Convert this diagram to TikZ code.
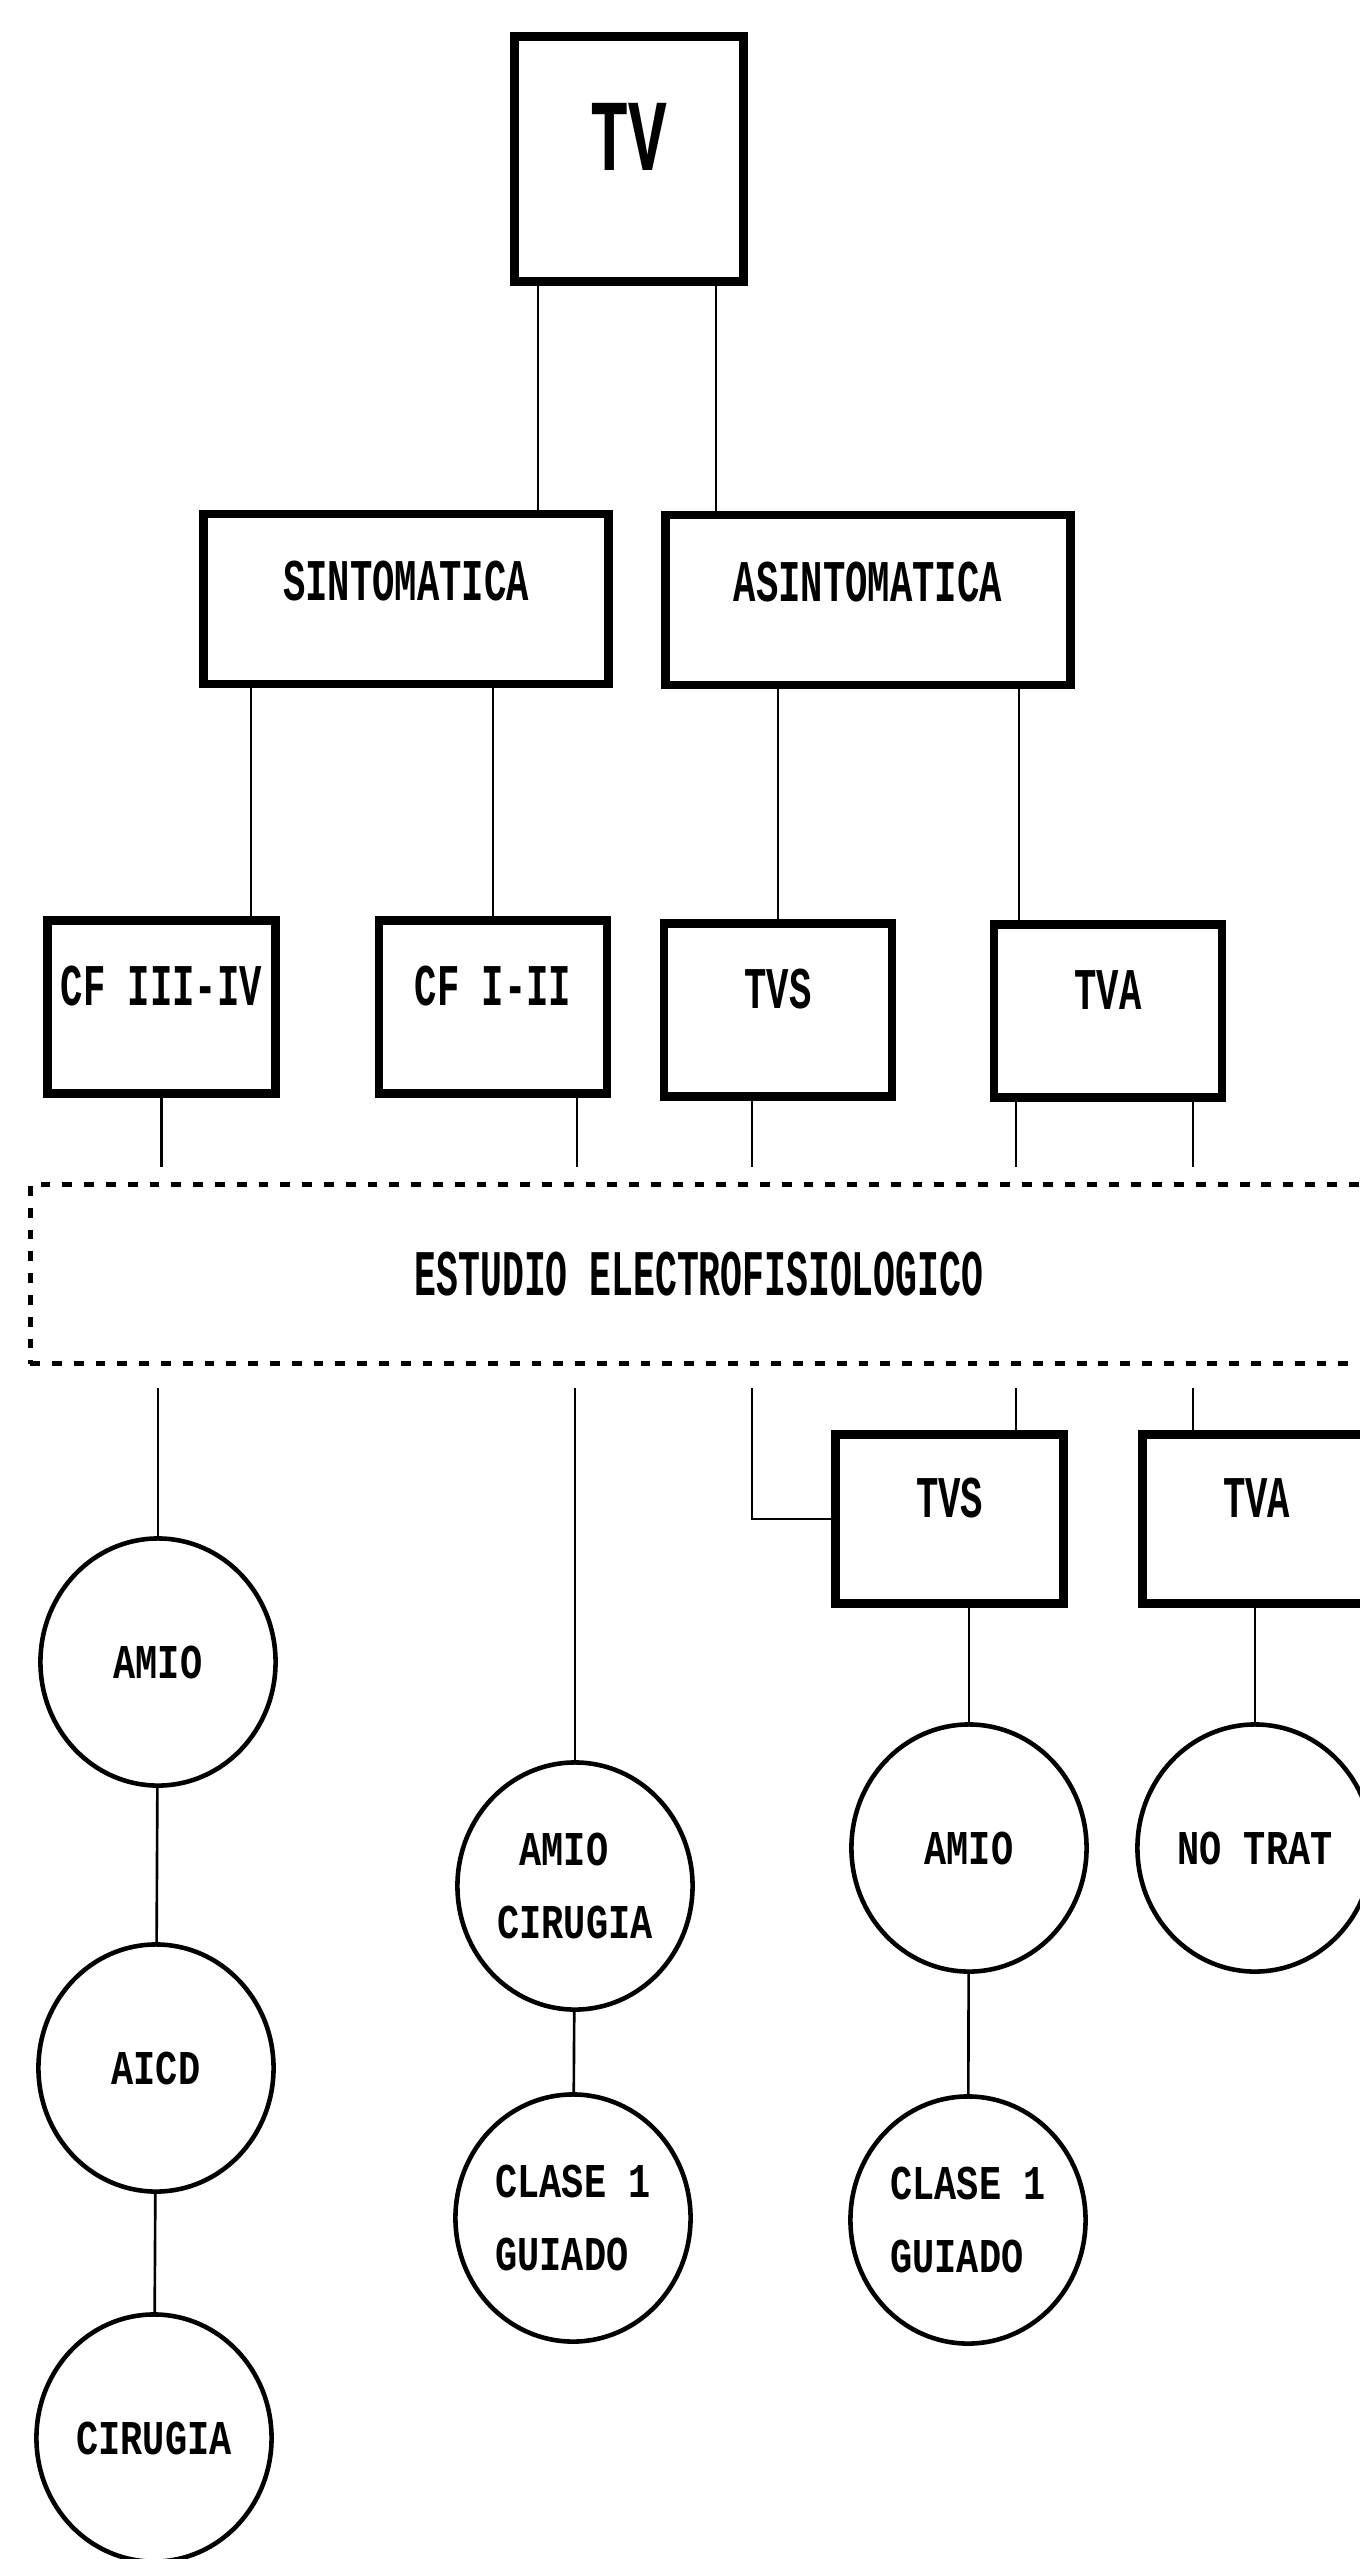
\documentclass[tikz,border=0pt]{standalone}
\usepackage{fontspec}
\usepackage{tikz}
\usetikzlibrary{shapes.geometric,calc}
\newfontfamily\boxfont[FakeStretch=0.63]{Liberation Mono}
\newfontfamily\circfont[FakeStretch=0.76]{Liberation Mono}
\newfontfamily\studyfont[FakeStretch=0.56]{Liberation Mono}
\tikzset{
  catbox/.style={
    rectangle, draw=black, line width=2.4pt,
    minimum width=2.28cm, minimum height=1.73cm,
    font=\boxfont\bfseries\fontsize{16.8}{18}\selectfont,
    text height=0.39cm, text depth=0.42cm,
    inner sep=0pt
  },
  groupbox/.style={catbox, minimum width=4.05cm, minimum height=1.70cm,
    text depth=0.36cm},
  tvbox/.style={catbox, minimum width=2.29cm, minimum height=2.45cm,
    font=\boxfont\bfseries\fontsize{29}{31}\selectfont,
    text height=0.67cm, text depth=0.44cm},
  studybox/.style={rectangle, draw=black, line width=1.4pt,
    dash pattern=on 2.8pt off 3.4pt,
    minimum width=13.37cm, minimum height=1.79cm,
    font=\studyfont\bfseries\fontsize{18.5}{20}\selectfont, inner sep=0pt},
  treatnode/.style={
    ellipse, draw=black, line width=1.3pt,
    minimum width=2.35cm, minimum height=2.47cm, inner sep=0pt,
    font=\circfont\bfseries\fontsize{13.8}{21}\selectfont, align=left
  },
  link/.style={line width=0.75pt},
}
\begin{document}
\begin{tikzpicture}[x=0.01cm, y=-0.01cm]
  \useasboundingbox (0,0) rectangle (1360,2559);
  \clip (0,0) rectangle (1360,2559);

  % Top and first split
  \node[tvbox] (tv) at (629,159) {TV};
  \node[groupbox] (sint) at (406,599) {SINTOMATICA};
  \node[groupbox] (asint) at (868,600) {ASINTOMATICA};
  \draw[link] ([xshift=-0.91cm]tv.south) -- ([xshift=-0.91cm]tv.south |- sint.north);
  \draw[link] ([xshift=0.87cm]tv.south) -- ([xshift=0.87cm]tv.south |- asint.north);

  % Second level
  \node[catbox] (cf34) at (161.5,1007) {CF III-IV};
  \node[catbox] (cf12) at (493,1007) {CF I-II};
  \node[catbox] (tvs) at (778,1010) {TVS};
  \node[catbox] (tva) at (1108,1011) {TVA};
  \draw[link] ([xshift=0.895cm]cf34.north |- sint.south) -- ([xshift=0.895cm]cf34.north);
  \draw[link] (sint.south -| cf12.north) -- (cf12.north);
  \draw[link] (asint.south -| tvs.north) -- (tvs.north);
  \draw[link] ([xshift=-0.89cm]tva.north |- asint.south) -- ([xshift=-0.89cm]tva.north);

  % Study
  \node[studybox] (study) at (699,1274) {ESTUDIO ELECTROFISIOLOGICO};
  \draw[link, shorten >=0.15cm] (cf34.south) -- (cf34.south |- study.north);
  \draw[link, shorten >=0.15cm] ([xshift=0.84cm]cf12.south) -- ([xshift=0.84cm]cf12.south |- study.north);
  \draw[link, shorten >=0.15cm] ([xshift=-0.26cm]tvs.south) -- ([xshift=-0.26cm]tvs.south |- study.north);
  \draw[link, shorten >=0.15cm] ([xshift=-0.92cm]tva.south) -- ([xshift=-0.92cm]tva.south |- study.north);
  \draw[link, shorten >=0.15cm] ([xshift=0.85cm]tva.south) -- ([xshift=0.85cm]tva.south |- study.north);

  % After the study
  \node[catbox, minimum height=1.69cm] (tvs2) at (949.5,1519) {TVS};
  \node[catbox, minimum height=1.69cm] (tva2) at (1256.5,1519) {TVA};
  \draw[link, shorten <=0.22cm] ([xshift=-0.26cm]tvs.south |- study.south) |- (tvs2.west);
  \draw[link, shorten <=0.22cm] ([xshift=0.665cm]tvs2.north |- study.south) -- ([xshift=0.665cm]tvs2.north);
  \draw[link, shorten <=0.22cm] ([xshift=-0.635cm]tva2.north |- study.south) -- ([xshift=-0.635cm]tva2.north);

  % Treatments
  \node[treatnode] (amio1) at (158,1662) {AMIO};
  \node[treatnode] (aicd) at (156,2068) {AICD};
  \node[treatnode] (cir1) at (154,2438) {CIRUGIA};
  \node[treatnode] (amiocir) at (575,1886) {\hphantom{C}AMIO\\CIRUGIA};
  \node[treatnode] (clase1) at (573,2218) {CLASE 1\\GUIADO};
  \node[treatnode] (amio3) at (969,1848) {AMIO};
  \node[treatnode] (clase2) at (968,2220) {CLASE 1\\GUIADO};
  \node[treatnode] (notrat) at (1255,1848) {NO TRAT};
  \draw[link, shorten <=0.22cm] (study.south -| amio1.north) -- (amio1.north);
  \draw[link, shorten <=0.22cm] (study.south -| amiocir.north) -- (amiocir.north);
  \draw[link] (amio1) -- (aicd);
  \draw[link] (aicd) -- (cir1);
  \draw[link] (amiocir) -- (clase1);
  \draw[link] (tvs2.south -| amio3.north) -- (amio3.north);
  \draw[link] (amio3) -- (clase2);
  \draw[link] (tva2.south -| notrat.north) -- (notrat.north);
\end{tikzpicture}
\end{document}
